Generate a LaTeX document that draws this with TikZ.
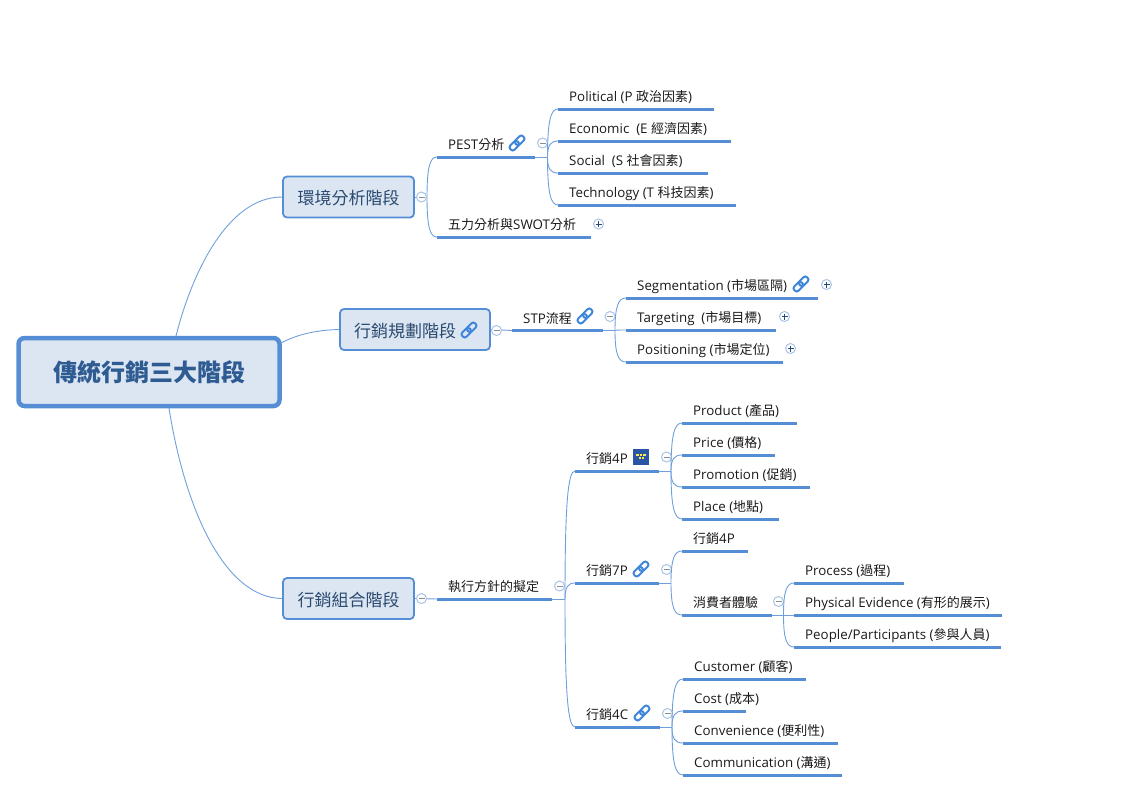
\documentclass[tikz,border=0pt]{standalone}
\usepackage{fontspec}
\setmainfont[Scale=1.025]{Open Sans}
\newfontfamily\cjkf[Scale=1.0]{Noto Sans CJK TC}
\newcommand\C[1]{{\cjkf #1}}
\usetikzlibrary{calc}
\definecolor{blueline}{HTML}{558ED5}
\definecolor{thinline}{HTML}{6FA0DC}
\definecolor{boxfill}{HTML}{DCE6F2}
\definecolor{maintext}{HTML}{2F5B93}
\definecolor{subtext}{HTML}{2B4A70}
\definecolor{ringc}{HTML}{A9C4E6}
\definecolor{linkc}{HTML}{3F86DA}
\definecolor{flagc}{HTML}{2A55A5}
\definecolor{flagy}{HTML}{FFE84D}
\tikzset{
  topic/.style={anchor=south west,inner xsep=0pt,inner ysep=4pt,text height=10pt,text depth=3pt,font=\fontsize{13}{15}\selectfont,text=black!90},
  under/.style={draw=blueline,line width=3pt},
  link/.style={draw=thinline,line width=0.9pt},
  mainbox/.style={draw=blueline,fill=boxfill,line width=4.5pt,rounded corners=6pt,text=maintext,font=\fontsize{24}{28}\selectfont\bfseries\cjkf,inner sep=0pt,anchor=center,text height=18pt,text depth=0pt},
  subbox/.style={draw=blueline,fill=boxfill,line width=1.8pt,rounded corners=4pt,text=subtext,font=\fontsize{17}{20}\selectfont\cjkf,inner sep=0pt,anchor=center,text height=15pt,text depth=0pt},
  ctrl/.style={circle,draw=ringc,fill=white,line width=1pt,minimum size=10pt,inner sep=0pt},
  minusc/.style={ctrl,path picture={\draw[draw=black!45,line width=0.8pt] ($(path picture bounding box.center)+(-3,0)$) -- ($(path picture bounding box.center)+(3,0)$);}},
  plusc/.style={ctrl,path picture={\draw[draw=maintext!80!black,line width=0.8pt] ($(path picture bounding box.center)+(-3,0)$) -- ($(path picture bounding box.center)+(3,0)$) ($(path picture bounding box.center)+(0,-3)$) -- ($(path picture bounding box.center)+(0,3)$);}},
  chainicon/.pic={\begin{scope}[rotate=45]
    \draw[draw=linkc,line width=2pt,rounded corners=2.5pt] (-9,-3) rectangle (1.5,3);
    \draw[draw=linkc,line width=2pt,rounded corners=2.5pt] (-1.5,-3) rectangle (9,3);
  \end{scope}},
}
\newcommand\topic[5]{%
  \node[topic] (#1) at (#2,#4) {\makebox[\dimexpr#3pt-#2pt\relax][l]{\hspace{11pt}#5}};
  \draw[under] (#1.south west) -- (#1.south east);}
\newcommand\curveto[2]{%
  \draw[link] (#1) .. controls ($(#1)!0.75!(#1|-#2.south west)$) and ($(#2.south west)!0.7!(#2.south west-|#1)$) .. (#2.south west);}
\begin{document}
\begin{tikzpicture}[x=1pt,y=-1pt]
\useasboundingbox (0,0) rectangle (1140,792);
% main boxes
\node[mainbox,minimum width=261pt,minimum height=68pt] (root) at (149,372) {傳統行銷三大階段};
\node[subbox,minimum width=131pt,minimum height=41pt] (env) at (348.5,197) {環境分析階段};
\node[subbox,minimum width=150pt,minimum height=41pt] (plan) at (415,329.5) {\makebox[122pt][l]{行銷規劃階段}};
\node[subbox,minimum width=131pt,minimum height=41pt] (mix) at (348.5,598.5) {行銷組合階段};
% root curves
\coordinate (r1) at (176,336);
\coordinate (r2) at (281,343);
\coordinate (r3) at (169,408);
\draw[link] (r1) .. controls (190,280) and (225,197) .. (env.west);
\draw[link] (r2) .. controls (300,333) and (320,330) .. (plan.west);
\draw[link] (r3) .. controls (185,510) and (225,598) .. (mix.west);
% environment
\topic{pest}{437}{535}{157}{PEST\C{分析}}
\topic{five}{437}{591}{237}{\C{五力分析與}SWOT\C{分析}}
\coordinate (fenv) at (427,197);
\draw[link] (env.east) -- (fenv);
\curveto{fenv}{pest}
\curveto{fenv}{five}
\node[minusc] (cenv) at (421.5,197) {};
\pic at (517,143) {chainicon};
\node[minusc] (cpest) at (542.5,143) {};
\node[plusc] (cfive) at (598.5,224) {};
\topic{pol}{558}{714}{109}{Political (P \C{政治因素})}
\topic{eco}{558}{731}{141}{Economic\ \ (E \C{經濟因素})}
\topic{soc}{558}{708}{173}{Social\ \ (S \C{社會因素})}
\topic{tec}{558}{736}{205}{Technology (T \C{科技因素})}
\coordinate (fpest) at (547.5,157);
\draw[link] (pest.south east) -- (fpest);
\curveto{fpest}{pol}
\curveto{fpest}{eco}
\curveto{fpest}{soc}
\curveto{fpest}{tec}
% planning
\topic{stp}{512}{603}{330.5}{STP\C{流程}}
\coordinate (fstp) at (615,330.5);
\draw[link] (plan.east) -- (stp.south west);
\draw[link] (stp.south east) -- (fstp);
\node[minusc] (cplan) at (496.5,330.5) {};
\pic at (469,330) {chainicon};
\pic at (585,316) {chainicon};
\node[minusc] (cstp) at (610,316.5) {};
\topic{seg}{626}{818}{298}{Segmentation (\C{市場區隔})}
\topic{tar}{626}{776}{330}{Targeting\ \ (\C{市場目標})}
\topic{posi}{626}{783}{362}{Positioning (\C{市場定位})}
\curveto{fstp}{seg}
\curveto{fstp}{tar}
\curveto{fstp}{posi}
\pic at (801,284) {chainicon};
\node[plusc] (cseg) at (826.5,284.5) {};
\node[plusc] (ctar) at (784.5,316.5) {};
\node[plusc] (cpos) at (790.5,348.5) {};
% mix
\topic{exec}{437}{552}{599}{\C{執行方針的擬定}}
\coordinate (fexec) at (565,599);
\draw[link] (mix.east) -- (exec.south west);
\draw[link] (exec.south east) -- (fexec);
\node[minusc] (cmix) at (421.5,598.5) {};
\node[minusc] (cexec) at (559.5,586) {};
\topic{p4}{575}{659}{471}{\C{行銷}4P}
\topic{p7}{575}{659}{583}{\C{行銷}7P}
\topic{c4}{575}{660}{727}{\C{行銷}4C}
\curveto{fexec}{p4}
\curveto{fexec}{p7}
\curveto{fexec}{c4}
\fill[flagc] (633,449) rectangle (649,465);
\draw[flagy,line width=1.4pt,dash pattern=on 2.5pt off 1pt] (636,455) -- (646,455);
\draw[flagy,line width=1.2pt,dash pattern=on 1.5pt off 1.5pt] (639,458) -- (644,458);
\node[minusc] (cp4) at (666.5,457) {};
\pic at (641,569) {chainicon};
\node[minusc] (cp7) at (666.5,569.5) {};
\pic at (642,713) {chainicon};
\node[minusc] (cc4) at (667.5,713.5) {};
\topic{prod}{682}{797}{423}{Product (\C{產品})}
\topic{pric}{682}{775}{455}{Price (\C{價格})}
\topic{prom}{682}{810}{487}{Promotion (\C{促銷})}
\topic{plac}{682}{779}{519}{Place (\C{地點})}
\coordinate (fp4) at (671,471);
\draw[link] (p4.south east) -- (fp4);
\curveto{fp4}{prod}
\curveto{fp4}{pric}
\curveto{fp4}{prom}
\curveto{fp4}{plac}
\topic{m4p}{682}{748}{551}{\C{行銷}4P}
\topic{exper}{682}{772}{615}{\C{消費者體驗}}
\coordinate (fp7) at (671,583);
\draw[link] (p7.south east) -- (fp7);
\curveto{fp7}{m4p}
\curveto{fp7}{exper}
\node[minusc] (cexp) at (778.5,601.5) {};
\topic{proc}{794}{904}{583}{Process (\C{過程})}
\topic{phys}{794}{1002}{615}{Physical Evidence (\C{有形的展示})}
\topic{peop}{794}{1001}{647}{People/Participants (\C{參與人員})}
\coordinate (fexp) at (783.5,615);
\draw[link] (exper.south east) -- (fexp);
\curveto{fexp}{proc}
\draw[link] (fexp) -- (phys.south west);
\curveto{fexp}{peop}
\topic{cust}{683}{806}{679}{Customer (\C{顧客})}
\topic{cost}{683}{746}{711}{Cost (\C{成本})}
\topic{conv}{683}{838}{743}{Convenience (\C{便利性})}
\topic{comm}{683}{842}{775}{Communication (\C{溝通})}
\coordinate (fc4) at (672,727);
\draw[link] (c4.south east) -- (fc4);
\curveto{fc4}{cust}
\curveto{fc4}{cost}
\curveto{fc4}{conv}
\curveto{fc4}{comm}
\end{tikzpicture}
\end{document}
